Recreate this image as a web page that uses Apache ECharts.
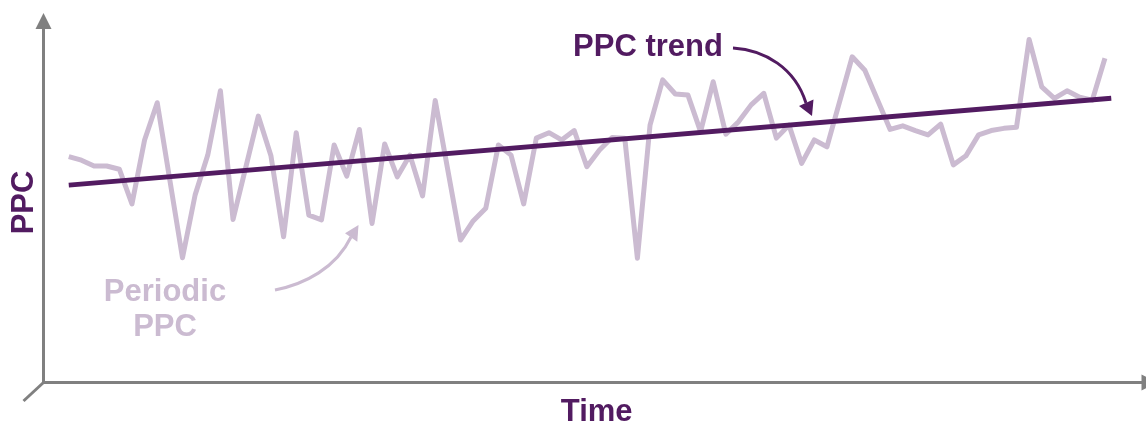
<!DOCTYPE html>
<html>
<head>
<meta charset="utf-8">
<script src="https://cdn.jsdelivr.net/npm/echarts@6/dist/echarts.min.js"></script>
<style>
  html, body { margin: 0; padding: 0; background: #fff; }
  #chart { width: 1146px; height: 424px; }
</style>
</head>
<body>
<div id="chart"></div>
<script>
// periodic PPC (x = period index, y = 0..100 scale)
const periodX = [0, 1, 2, 3, 4, 5, 6, 7, 9, 10, 11, 12, 13, 15, 16, 17, 18, 19, 20,
  21, 22, 23, 24, 25, 26, 27, 28, 29, 31, 32, 33, 34, 35, 36, 37, 38, 39, 40,
  41, 42, 43, 44, 45, 46, 47, 48, 49, 50, 51, 52, 53, 54, 55, 56, 57, 58, 59, 60,
  62, 63, 65, 66, 67, 68, 69, 70, 71, 72, 73, 74, 75, 76, 77, 78, 79, 80, 81, 82]
const periodY = [62.5, 61.5, 59.9, 59.9, 59.0, 49.4, 67.1, 77.4, 34.5, 51.9, 62.9, 80.7, 45.1, 73.7, 62.7, 40.3, 69.1, 46.3, 45.0,
  65.7, 57.1, 70.0, 44.0, 66.0, 56.9, 62.9, 51.6, 78.0, 39.4, 44.7, 48.2, 65.7, 62.9, 49.4, 67.6, 69.1, 67.1, 69.7,
  59.7, 64.3, 67.8, 67.6, 34.4, 71.2, 83.7, 79.8, 79.5, 69.4, 83.2, 68.7, 72.1, 76.8, 80.0, 67.6, 71.2, 60.6, 67.1, 65.2,
  90.1, 86.4, 70.0, 71.0, 69.7, 68.5, 71.5, 60.2, 62.7, 68.5, 69.7, 70.3, 70.6, 94.9, 81.8, 78.6, 80.7, 78.9, 78.1, 89.7]

// trend line end points
const trendX = [0, 82.5]
const trendY = [54.6, 78.6]

const dark = '#521b61'
const light = '#cbbbd1'
const axisGray = '#808080'
const font = '"Liberation Sans", Arial, sans-serif'

const chart = echarts.init(document.getElementById('chart'))

const option = {
  animation: false,
  grid: { left: 43.5, right: 0, top: 21, bottom: 41.5 },
  xAxis: {
    type: 'value',
    min: -2,
    max: 85.25,
    axisLine: {
      show: true,
      onZero: false,
      symbol: ['none', 'triangle'],
      symbolSize: [16, 16],
      symbolOffset: [0, 3.5],
      lineStyle: { color: axisGray, width: 3 }
    },
    axisTick: { show: false },
    axisLabel: { show: false },
    splitLine: { show: false }
  },
  yAxis: {
    type: 'value',
    min: 0,
    max: 100,
    axisLine: {
      show: true,
      onZero: false,
      symbol: ['none', 'triangle'],
      symbolSize: [16, 16],
      lineStyle: { color: axisGray, width: 3 }
    },
    axisTick: { show: false },
    axisLabel: { show: false },
    splitLine: { show: false }
  },
  series: [
    {
      name: 'Periodic PPC',
      type: 'line',
      data: periodX.map((x, i) => [x, periodY[i]]),
      symbol: 'none',
      lineStyle: { color: light, width: 5, join: 'round', cap: 'butt' },
      z: 2
    },
    {
      name: 'PPC trend',
      type: 'line',
      data: trendX.map((x, i) => [x, trendY[i]]),
      symbol: 'none',
      lineStyle: { color: dark, width: 5, cap: 'butt' },
      z: 3
    }
  ],
  graphic: [
    // little diagonal stub at the origin
    {
      type: 'line',
      shape: { x1: 43.5, y1: 382.5, x2: 23.5, y2: 401 },
      style: { stroke: axisGray, lineWidth: 3 }
    },
    {
      type: 'text',
      x: 24, y: 202.5,
      rotation: Math.PI / 2,
      style: { text: 'PPC', fill: dark, font: 'bold 31px ' + font, align: 'center', verticalAlign: 'middle' }
    },
    {
      type: 'text',
      x: 596.7, y: 412.5,
      style: { text: 'Time', fill: dark, font: 'bold 31px ' + font, align: 'center', verticalAlign: 'middle' }
    },
    {
      type: 'text',
      x: 648, y: 47.8,
      style: { text: 'PPC trend', fill: dark, font: 'bold 31px ' + font, align: 'center', verticalAlign: 'middle' }
    },
    {
      type: 'text',
      x: 165, y: 292.2,
      style: { text: 'Periodic', fill: light, font: 'bold 31px ' + font, align: 'center', verticalAlign: 'middle' }
    },
    {
      type: 'text',
      x: 165, y: 327,
      style: { text: 'PPC', fill: light, font: 'bold 31px ' + font, align: 'center', verticalAlign: 'middle' }
    },
    // arrow to the trend line
    {
      type: 'bezierCurve',
      shape: { x1: 733, y1: 48, cpx1: 765, cpy1: 50, cpx2: 795, cpy2: 68, x2: 806, y2: 103 },
      style: { stroke: dark, lineWidth: 3, fill: null }
    },
    {
      type: 'polygon',
      shape: { points: [[799, 106], [813.5, 99.5], [812, 116]] },
      style: { fill: dark }
    },
    // arrow to the periodic line
    {
      type: 'bezierCurve',
      shape: { x1: 275, y1: 290, cpx1: 305, cpy1: 284, cpx2: 336, cpy2: 268, x2: 351, y2: 237 },
      style: { stroke: light, lineWidth: 3, fill: null }
    },
    {
      type: 'polygon',
      shape: { points: [[345, 233.3], [357.3, 241.7], [358.5, 225]] },
      style: { fill: light }
    }
  ]
}

chart.setOption(option)
</script>
</body>
</html>
